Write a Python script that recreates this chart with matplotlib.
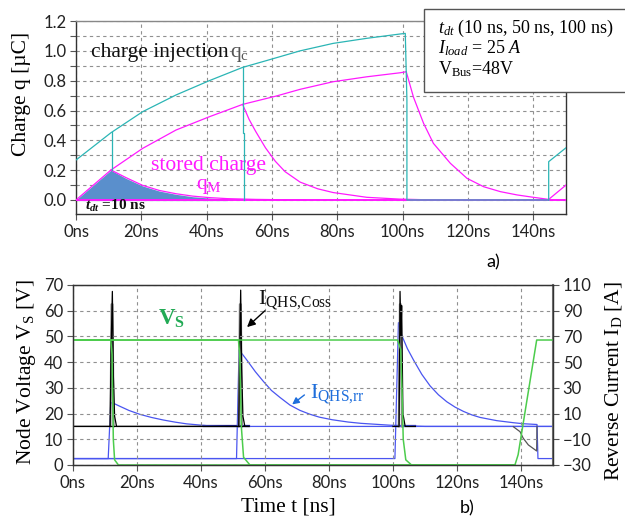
import numpy as np
import matplotlib
matplotlib.use("Agg")
import matplotlib.pyplot as plt
from matplotlib.patches import Rectangle

# ---- panel a) charge ----
t_qc = [0, 10.7, 20.4, 30.6, 40.8, 51.0, 58.2, 68.6, 78.7, 89.0, 99.2, 100.8]
qc = [0.268, 0.451, 0.592, 0.704, 0.80, 0.889, 0.934, 1.0, 1.05, 1.084, 1.113, 1.117]
t_qc_end = [144.7, 144.7, 150]
qc_end = [0.0, 0.257, 0.35]

t_qm = [0, 10.7, 20.4, 30.6, 40.8, 51.0, 61.3, 68.6, 78.7, 89.0, 99.2, 101.1]
qm = [0, 0.201, 0.346, 0.469, 0.558, 0.641, 0.697, 0.742, 0.793, 0.826, 0.853, 0.86]
t_qm10 = [10.7, 15.3, 20.4, 25.5, 30.6, 35.7, 40.8, 46.4, 55, 70]
qm10 = [0.201, 0.15, 0.098, 0.064, 0.042, 0.026, 0.016, 0.009, 0.004, 0.0]
t_qm50 = [51.0, 53.0, 55.0, 58.0, 61.0, 64.0, 68.6, 74.0, 78.7, 89.0, 99.0, 110]
qm50 = [0.641, 0.54, 0.46, 0.35, 0.26, 0.19, 0.12, 0.075, 0.05, 0.018, 0.006, 0.0]
t_qm100 = [101.1, 103.3, 106.4, 109.4, 114.6, 119.7, 124.8, 129.9, 135, 140, 144.7, 150]
qm100 = [0.86, 0.69, 0.514, 0.38, 0.246, 0.145, 0.089, 0.056, 0.034, 0.018, 0.004, 0.1]

t_fill = [0, 10.7, 15.3, 20.4, 25.5, 30.6, 35.7, 40.8, 46.4]
q_fill = [0, 0.2, 0.145, 0.094, 0.06, 0.038, 0.022, 0.013, 0.006]

# ---- panel b) node voltage / reverse current ----
t_vs10 = [0, 11.8, 12.2, 12.6, 13.0, 14.2, 138.1]
vs10 = [48.6, 48.6, 43, 10, 2, 0, 0]
t_vs50 = [0, 51.7, 52.1, 52.6, 53.3, 55.3, 138.1]
vs50 = [48.6, 48.6, 43, 15, 3, 0, 0]
t_vs100 = [0, 101.4, 102.4, 102.8, 103.2, 104.0, 105.8, 138.1, 139.1, 144.9, 150]
vs100 = [48.6, 48.6, 45, 30, 10, 2, 0, 0, 4, 48.6, 48.6]

t_i10 = [0, 11.0, 11.8, 13.0, 14.7, 17.5, 20.9, 24.5, 28.2, 32.0, 35.5, 41.8, 48, 150]
i10 = [-25, -25, 18.5, 17.6, 15.6, 12.4, 9.4, 7.0, 5.0, 3.3, 2.0, 0.6, 0, 0]
t_i50 = [0, 51.1, 51.9, 54.3, 57.0, 59.5, 62.0, 64.7, 67.8, 70.9, 74.0, 77, 81, 86, 90, 100, 110, 150]
i50 = [-25, -25, 59.5, 51.7, 42.5, 35.0, 28.0, 22.5, 16.6, 12.5, 9.5, 7.2, 5.2, 3.4, 2.4, 0.8, 0, 0]
t_i100 = [0, 100.6, 101.7, 102.7, 104.5, 106.4, 109.0, 111.6, 114.2, 116.8, 119.4, 122.0,
          124.6, 127.2, 132.4, 137.6, 140.7, 145.0, 145.3, 150]
i100 = [-25, -25, 80.7, 71, 60.5, 51.7, 40.5, 31.5, 24.6, 19.2, 15.0, 11.7,
        9.0, 7.0, 4.5, 2.9, 2.1, 1.5, -25, -25]

t_c10 = [0, 11.6, 11.9, 12.3, 12.6, 13.0, 13.6, 55]
c10 = [0, 0, 60, 105, 40, 8, 0, 0]
t_c50 = [0, 51.8, 52.1, 52.4, 52.7, 53.1, 53.7, 55]
c50 = [0, 0, 60, 106, 45, 8, 0, 0]
t_c100 = [100, 101.9, 102.2, 102.5, 102.7, 103.1, 103.8, 107]
c100 = [0, 0, 105, 70, 94, 10, 0, 0]
t_c_end = [137.6, 139.7, 140.7, 142.3, 144.9, 145.0]
c_end = [-0.2, -4.1, -9.2, -14.4, -19.1, 0]

x_ticks = [0, 20, 40, 60, 80, 100, 120, 140]
q_ticks = np.round(np.arange(0, 1.21, 0.1), 1)
v_ticks = [0, 10, 20, 30, 40, 50, 60, 70]
i_ticks = [-30, -10, 10, 30, 50, 70, 90, 110]

TEAL = "#2bb5b5"
MAG = "#ff1aff"
FILL = "#5a8fcc"
GREEN = "#4ccc4c"
BLUE = "#4a55f0"

plt.rcParams["font.family"] = ["Lato", "DejaVu Sans"]
plt.rcParams["mathtext.fontset"] = "custom"
plt.rcParams["mathtext.rm"] = "Liberation Serif"
plt.rcParams["mathtext.it"] = "Liberation Serif:italic"
plt.rcParams["mathtext.bf"] = "Liberation Serif:bold"
plt.rcParams["mathtext.bfit"] = "Liberation Serif:italic:bold"
SERIF = "Liberation Serif"

fig = plt.figure(figsize=(6.25, 5.23), dpi=100)
ax = fig.add_axes([0.1216, 0.5908, 0.784, 0.369])
bx = fig.add_axes([0.1168, 0.1109, 0.768, 0.3442])


def style(a):
    a.grid(True, linestyle=(0, (3, 3)), color="#909090", linewidth=0.8)
    a.set_axisbelow(True)
    a.tick_params(direction="out", length=4, color="#555555", labelsize=12,
                  labelcolor="#222222", pad=3)
    for s in a.spines.values():
        s.set_color("#333333")
        s.set_linewidth(1.0)


# ---------- a) ----------
lw = 0.9
ax.fill_between(t_fill, q_fill, -0.004, color=FILL, lw=0, zorder=2)
ax.plot([0, 150], [0, 0], color=MAG, lw=1.4, zorder=3)
ax.plot(t_qm, qm, color=MAG, lw=lw, zorder=3)
ax.plot(t_qm10, qm10, color=MAG, lw=lw, zorder=3)
ax.plot(t_qm50, qm50, color=MAG, lw=lw, zorder=3)
ax.plot(t_qm100, qm100, color=MAG, lw=lw, zorder=3)
ax.plot(t_qc + [101.3, 101.3, 144.7], qc + [0.67, 0.0, 0.0], color=TEAL, lw=lw, zorder=4)
ax.plot([10.9, 10.9], [np.interp(10.9, t_qc, qc), 0.2], color=TEAL, lw=lw, zorder=4)
ax.plot([51.0, 51.0, 51.4, 51.4], [0.889, 0.45, 0.45, 0.0], color=TEAL, lw=lw, zorder=4)
ax.plot(t_qc_end, qc_end, color=TEAL, lw=lw, zorder=4)

ax.set_xlim(0, 150)
ax.set_ylim(-0.094, 1.2)
ax.set_xticks(x_ticks)
ax.set_xticklabels([f"{v}ns" for v in x_ticks])
ax.set_yticks(q_ticks)
ax.set_yticklabels([f"{v:.1f}" if i % 2 == 0 else "" for i, v in enumerate(q_ticks)])
style(ax)
ax.spines["top"].set_color("#888888")

ax.text(4.5, 0.96, "charge injection", family=SERIF, fontsize=15.5, color="#111111")
ax.text(47.2, 0.96, r"$\mathrm{q_c}$", fontsize=15.5, color="#555555")
ax.text(40.6, 0.20, "stored charge", family=SERIF, fontsize=15.5, color=MAG, ha="center")
ax.text(40.6, 0.075, r"$\mathrm{q_M}$", fontsize=15.5, color=MAG, ha="center")
ax.text(2.8, -0.067, r"$\mathbfit{t_{dt}}$ =10 ns", family=SERIF, fontsize=11,
        fontweight="bold", color="#111111")

# legend box
fig.patches.append(Rectangle((0.678, 0.824), 0.4, 0.159, transform=fig.transFigure,
                             facecolor="white", edgecolor="#555555", lw=1.0, zorder=10))
fig.text(0.7008, 1 - 33 / 523, r"$t_{dt}$ (10 ns, 50 ns, 100 ns)", family=SERIF, fontsize=13, zorder=11)
fig.text(0.7008, 1 - 53.5 / 523, r"$I_{load}$ = 25 $A$", family=SERIF, fontsize=13, zorder=11)
fig.text(0.7008, 1 - 74 / 523, r"V$_{\mathrm{Bus}}$=48V", family=SERIF, fontsize=13, zorder=11)

fig.text(22 / 625, 1 - 94 / 523, r"Charge q [µC]", family=SERIF, fontsize=15.5,
         rotation=90, ha="center", va="center")
fig.text(493 / 625, 1 - 262 / 523, "a)", fontsize=13, ha="center", va="center")

# ---------- b) ----------
bx2 = bx.twinx()
bx.set_zorder(2)
bx2.set_zorder(1)
bx.patch.set_visible(False)

bx2.plot([41, 55], [0, 0], color="#2020a0", lw=1.6)
bx2.plot([100, 107], [0, 0], color="#2020a0", lw=1.6)
bx2.plot(t_i10, i10, color=BLUE, lw=lw)
bx2.plot(t_i50, i50, color=BLUE, lw=lw)
bx2.plot(t_i100, i100, color=BLUE, lw=lw)
for tc in (12.2, 52.3, 102.3):
    bx2.plot([tc - 0.5, tc - 0.15, tc + 0.15, tc + 0.5], [0, 95, 95, 0], color="#888888", lw=1.5)
bx2.plot(t_c10, c10, color="black", lw=lw)
bx2.plot(t_c50, c50, color="black", lw=lw)
bx2.plot(t_c100, c100, color="black", lw=lw)
bx2.plot(t_c_end, c_end, color="#555555", lw=lw)

bx.plot(t_vs10, vs10, color=GREEN, lw=1.1)
bx.plot(t_vs50, vs50, color=GREEN, lw=1.1)
bx.plot(t_vs100, vs100, color=GREEN, lw=1.1)

bx.set_xlim(0, 150)
bx.set_ylim(0, 70)
bx2.set_ylim(-30, 110)
bx.set_xticks(x_ticks)
bx.set_xticklabels([f"{v}ns" for v in x_ticks])
bx.set_yticks(v_ticks)
bx2.set_yticks(i_ticks)
style(bx)
bx2.tick_params(direction="out", length=4, color="#555555", labelsize=12,
                labelcolor="#222222", pad=3)
for s in bx2.spines.values():
    s.set_color("#333333")
bx2.spines["right"].set_color("#777777")
bx2.spines["right"].set_linewidth(1.5)

bx.text(26.6, 54.4, r"$\mathbf{V_S}$", fontsize=16.5, color="#22aa55")
bx.text(57.8, 62.6, r"$\mathrm{I_{QHS{,}Coss}}$", fontsize=16, color="#111111")
bx.annotate("", xy=(53.75, 52.9), xytext=(60.6, 60.7),
            arrowprops=dict(arrowstyle="-|>", color="black", lw=1.0, mutation_scale=12))
bx.text(74.1, 26.0, r"$\mathrm{I_{QHS{,}rr}}$", fontsize=16, color="#1e6edc")
bx.annotate("", xy=(67.8, 22.9), xytext=(73.0, 27.9),
            arrowprops=dict(arrowstyle="-|>", color="#1e6edc", lw=1.0, mutation_scale=10))

fig.text(27 / 625, 1 - 372 / 523, r"Node Voltage V$_\mathrm{S}$ [V]", family=SERIF,
         fontsize=15.5, rotation=90, ha="center", va="center")
fig.text(614 / 625, 1 - 381 / 523, r"Reverse Current I$_\mathrm{D}$ [A]", family=SERIF,
         fontsize=15.5, rotation=90, ha="center", va="center")
fig.text(288 / 625, 1 - 507 / 523, "Time t [ns]", family=SERIF, fontsize=15.5,
         ha="center", va="center")
fig.text(467 / 625, 1 - 508 / 523, "b)", fontsize=13, ha="center", va="center")

fig.savefig("out.png", dpi=100)
